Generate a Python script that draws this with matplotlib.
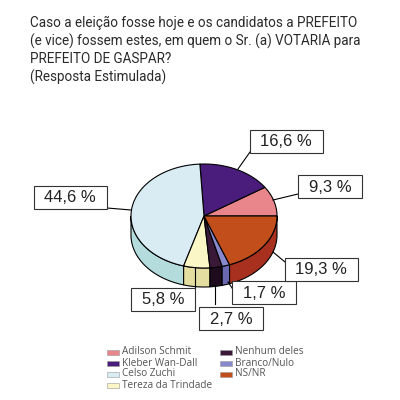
import numpy as np
import matplotlib
matplotlib.use("Agg")
import matplotlib.pyplot as plt
from matplotlib.patches import Polygon, Rectangle

# ---- data ----
categories = ["Adilson Schmit", "Kleber Wan-Dall", "Celso Zuchi", "Tereza da Trindade",
              "Nenhum deles", "Branco/Nulo", "NS/NR"]
values = [9.3, 16.6, 44.6, 5.8, 2.7, 1.7, 19.3]
value_labels = ["9,3 %", "16,6 %", "44,6 %", "5,8 %", "2,7 %", "1,7 %", "19,3 %"]
title_lines = ["Caso a eleição fosse hoje e os candidatos a PREFEITO",
               "(e vice) fossem estes, em quem o Sr. (a) VOTARIA para",
               "PREFEITO DE GASPAR?",
               "(Resposta Estimulada)"]

# ---- styles ----
top_colors = ["#e8868c", "#4a1c7c", "#d9ecf3", "#fbf6c6", "#3a1838", "#8a88cc", "#c24e1c"]
side_colors = ["#c06870", "#351260", "#b4dcdc", "#e4dea0", "#1e0c1e", "#6a68b0", "#a8301e"]

fig = plt.figure(figsize=(4, 4), dpi=100)
ax = fig.add_axes([0, 0, 1, 1])
ax.set_xlim(0, 400)
ax.set_ylim(400, 0)
ax.axis("off")

# title
for i, line in enumerate(title_lines):
    ax.text(30, 23 + i * 18, line, fontsize=9.75, family="Roboto",
            color="#2a2a2a", va="center", ha="left")

# pie geometry
cx, cy, rx, ry, depth = 204, 216, 73, 52, 19
total = sum(values)
bounds = np.concatenate([[0], np.cumsum(values)]) / total * 360.0

def pt(theta_deg, dy=0.0):
    t = np.radians(theta_deg)
    return cx + rx * np.cos(t), cy - ry * np.sin(t) + dy

# side walls (front half: 180..360)
for i in range(len(values)):
    a, b = bounds[i], bounds[i + 1]
    lo, hi = max(a, 180), min(b, 360)
    if hi <= lo:
        continue
    th = np.linspace(lo, hi, 60)
    top = [pt(t) for t in th]
    bot = [pt(t, depth) for t in th[::-1]]
    ax.add_patch(Polygon(top + bot, closed=True, facecolor=side_colors[i],
                         edgecolor="black", lw=0.8, zorder=2))

# top faces
for i in range(len(values)):
    a, b = bounds[i], bounds[i + 1]
    th = np.linspace(a, b, 120)
    poly = [(cx, cy)] + [pt(t) for t in th]
    ax.add_patch(Polygon(poly, closed=True, facecolor=top_colors[i],
                         edgecolor="black", lw=0.8, zorder=3))

# labels (box centre, leader start, leader end)
label_layout = {
    0: ((330, 186), (273, 200), (298, 194)),
    1: ((286, 141), (238, 169), (250, 152)),
    2: ((70, 197), (131, 210), (107, 208)),
    3: ((163, 299), (195, 268), (195, 288)),
    4: ((231, 318), (215, 285), (215, 304)),
    5: ((264, 292), (228, 282), (232, 288)),
    6: ((321, 269), (273, 252), (285, 262)),
}
bw, bh = 73, 23
for i, (c, p0, p1) in label_layout.items():
    w = bw if len(value_labels[i]) > 5 else 64
    ax.plot([p0[0], p1[0]], [p0[1], p1[1]], color="black", lw=0.8, zorder=4)
    ax.add_patch(Rectangle((c[0] - w / 2, c[1] - bh / 2), w, bh, facecolor="white",
                           edgecolor="#333333", lw=0.8, zorder=5))
    ax.text(c[0], c[1] + 1, value_labels[i], fontsize=12, family="Liberation Sans",
            ha="center", va="center", color="#222222", zorder=6)

# legend
leg_pos = [(107, 352), (107, 363), (107, 374), (107, 385), (220, 352), (220, 363), (220, 374)]
for i, name in enumerate(categories):
    x, y = leg_pos[i]
    ax.add_patch(Rectangle((x, y - 2.5), 12, 5, facecolor=top_colors[i],
                           edgecolor="#999999", lw=0.4, zorder=5))
    ax.text(x + 15, y, name, fontsize=7.2, family="Open Sans", color="#555555",
            ha="left", va="center")

fig.savefig("out.png", dpi=100)
